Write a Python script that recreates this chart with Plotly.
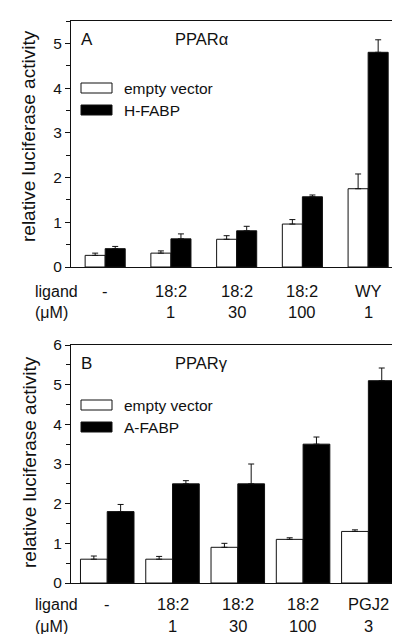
import plotly.graph_objects as go

# ---------------- data ----------------
ligands_a = ["-", "18:2", "18:2", "18:2", "WY"]
conc_a = ["", "1", "30", "100", "1"]
empty_a = [0.26, 0.31, 0.62, 0.96, 1.75]
empty_a_err = [0.05, 0.05, 0.08, 0.10, 0.33]
hfabp_a = [0.41, 0.63, 0.81, 1.57, 4.80]
hfabp_a_err = [0.05, 0.11, 0.10, 0.04, 0.28]

ligands_b = ["-", "18:2", "18:2", "18:2", "PGJ2"]
conc_b = ["", "1", "30", "100", "3"]
empty_b = [0.60, 0.60, 0.90, 1.10, 1.30]
empty_b_err = [0.08, 0.07, 0.10, 0.04, 0.04]
afabp_b = [1.80, 2.50, 2.50, 3.50, 5.10]
afabp_b_err = [0.18, 0.08, 0.50, 0.18, 0.32]

yticks_a = [0, 1, 2, 3, 4, 5]
yticks_b = [0, 1, 2, 3, 4, 5, 6]

# ---------------- layout helpers ----------------
W, H = 400, 634
FONT = "Liberation Sans, Arial, Helvetica, sans-serif"
INK = "#111111"

def px(x):
    return x / W

def py(y):
    return 1 - y / H

xdom = [px(63), px(393)]
dom_a = [py(259), py(13)]
dom_b = [py(575), py(337)]

pos = list(range(5))

fig = go.Figure()

def add_bars(xaxis, yaxis, vals, errs, fill, width, offset, name):
    fig.add_trace(go.Bar(
        x=pos, y=vals, width=width, offset=offset, name=name,
        xaxis=xaxis, yaxis=yaxis,
        marker=dict(color=fill, line=dict(color=INK, width=1)),
        error_y=dict(type="data", symmetric=False, array=errs,
                     arrayminus=[0] * len(errs), color=INK,
                     thickness=1, width=3),
        showlegend=False,
    ))

wa, wb = 0.305, 0.41
add_bars("x", "y", empty_a, empty_a_err, "white", wa, -wa, "empty vector")
add_bars("x", "y", hfabp_a, hfabp_a_err, "black", wa, 0, "H-FABP")
add_bars("x2", "y2", empty_b, empty_b_err, "white", wb, -wb, "empty vector")
add_bars("x2", "y2", afabp_b, afabp_b_err, "black", wb, 0, "A-FABP")

axis_common = dict(showline=True, linecolor=INK, linewidth=1, mirror=True,
                   showgrid=False, zeroline=False)

yax_common = dict(axis_common, ticks="outside", ticklen=5, tickwidth=1,
                  tickcolor=INK, tickfont=dict(family=FONT, size=15.5, color=INK),
                  minor=dict(dtick=0.5, ticks="outside", ticklen=4,
                             tickcolor=INK, tickwidth=1))

fig.update_layout(
    width=W, height=H,
    margin=dict(l=0, r=0, t=0, b=0, autoexpand=False),
    paper_bgcolor="white", plot_bgcolor="white",
    barmode="overlay",
    font=dict(family=FONT, color=INK),
    xaxis=dict(axis_common, domain=xdom, range=[-0.52, 4.5],
               showticklabels=False, ticks="", anchor="y"),
    yaxis=dict(yax_common, domain=dom_a, range=[0, 5.5],
               tickvals=yticks_a, anchor="x"),
    xaxis2=dict(axis_common, domain=xdom, range=[-0.555, 4.5],
                showticklabels=False, ticks="", anchor="y2"),
    yaxis2=dict(yax_common, domain=dom_b, range=[0, 6],
                tickvals=yticks_b, anchor="x2"),
)

ann = []

def text(x, y, s, size, xref="paper", xanchor="left", angle=0):
    ann.append(dict(x=x, y=y, xref=xref, yref="paper", text=s,
                    showarrow=False, xanchor=xanchor, yanchor="middle",
                    textangle=angle, borderpad=0,
                    font=dict(family=FONT, size=size, color=INK)))

# y-axis titles
text(px(21), py(128), "relative luciferase activity", 19,
     xanchor="center", angle=-90)
text(px(21), py(454), "relative luciferase activity", 19,
     xanchor="center", angle=-90)

# panel letters & titles
text(px(72), py(31), "A", 17)
text(px(166), py(31), "PPARα", 16.5)
text(px(72), py(355), "B", 17)
text(px(166), py(355), "PPARγ", 16.5)

# category rows
for xr, ligs, concs, y1, y2 in (("x", ligands_a, conc_a, 283, 304),
                                 ("x2", ligands_b, conc_b, 596, 618)):
    text(px(26), py(y1), "ligand", 16)
    text(px(26), py(y2), "(μM)", 16)
    for i, (lg, c) in enumerate(zip(ligs, concs)):
        text(i, py(y1), lg, 16.5, xref=xr, xanchor="center")
        if c:
            text(i, py(y2), c, 16.5, xref=xr, xanchor="center")

# custom legends (swatch boxes + labels)
shapes = []

def legend(y_top, labels):
    fills = ["white", "black"]
    for k, (lab, fc) in enumerate(zip(labels, fills)):
        yt = y_top + k * 22
        shapes.append(dict(type="rect", xref="paper", yref="paper",
                           x0=px(73), x1=px(104), y0=py(yt), y1=py(yt + 10),
                           fillcolor=fc, line=dict(color=INK, width=1)))
        text(px(115), py(yt + 5), lab, 15.5)

legend(75, ["empty vector", "H-FABP"])
legend(392, ["empty vector", "A-FABP"])

fig.update_layout(annotations=ann, shapes=shapes)

fig.write_html("out.html")
